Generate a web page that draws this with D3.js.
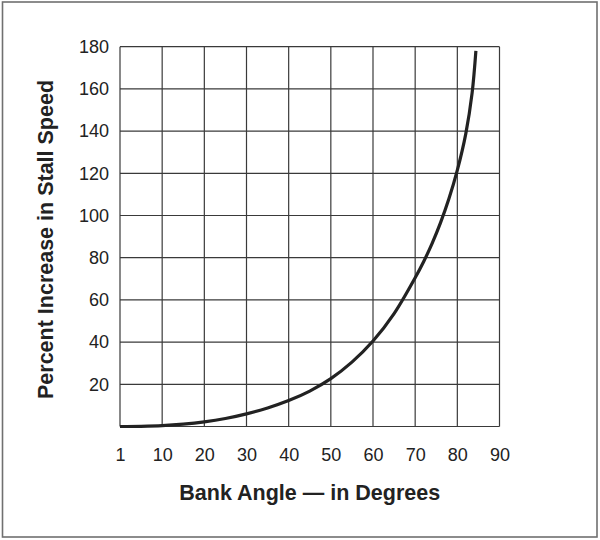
<!DOCTYPE html>
<html lang="en">
<head>
    <meta charset="UTF-8">
    <title>Stall Speed vs Bank Angle</title>
    <script src="https://cdn.jsdelivr.net/npm/d3@7/dist/d3.min.js"></script>
    <style>
        body { margin: 0; background: #fff; }
        text { font-family: 'Liberation Sans', Arial, Helvetica, sans-serif; fill: #222; }
    </style>
</head>
<body>
    <div class="chart"></div>
</body>
<script>
    // values
    const bankAngle = [0, 5, 10, 15, 20, 25, 30, 35, 40, 45, 50, 55, 60, 65, 70, 72, 74, 76, 78, 80, 82, 83.5, 84.4]
    const stallIncrease = [0, 0.1, 0.4, 1.1, 2.2, 3.8, 6, 8.8, 12.3, 16.8, 22.7, 30.5, 40.5, 53.5, 70.5, 78.1, 86.7, 96.5, 107.9, 121.5, 138.7, 158, 178]

    const xTicks = [0, 10, 20, 30, 40, 50, 60, 70, 80, 90]
    const xTickLabels = ['1', '10', '20', '30', '40', '50', '60', '70', '80', '90']
    const yGrid = [0, 20, 40, 60, 80, 100, 120, 140, 160, 180]
    const yTickLabels = [20, 40, 60, 80, 100, 120, 140, 160, 180]

    const width = 600
    const height = 540
    const padding = { top: 46.7, right: 100.5, bottom: 113.5, left: 120 }

    const svg = d3.select('.chart')
        .append('svg')
        .attr('width', width)
        .attr('height', height)

    // outer frame
    svg.append('rect')
        .attr('x', 2.5)
        .attr('y', 2)
        .attr('width', 594.5)
        .attr('height', 535)
        .attr('fill', 'none')
        .attr('stroke', '#707070')
        .attr('stroke-width', 1.6)

    const xScale = d3.scaleLinear().domain([0, 90]).range([padding.left, width - padding.right])
    const yScale = d3.scaleLinear().domain([0, 180]).range([height - padding.bottom, padding.top])

    // grid
    const grid = svg.append('g').attr('stroke', '#3a3a3a').attr('stroke-width', 1.2)
    grid.selectAll('.vline')
        .data(xTicks)
        .enter().append('line')
        .attr('class', 'vline')
        .attr('x1', d => xScale(d)).attr('x2', d => xScale(d))
        .attr('y1', yScale(0)).attr('y2', yScale(180))
    grid.selectAll('.hline')
        .data(yGrid)
        .enter().append('line')
        .attr('class', 'hline')
        .attr('x1', xScale(0)).attr('x2', xScale(90))
        .attr('y1', d => yScale(d)).attr('y2', d => yScale(d))

    // axes (labels only, no domain / tick marks)
    const xAxis = d3.axisBottom(xScale)
        .tickValues(xTicks)
        .tickFormat((d, i) => xTickLabels[i])
        .tickSize(0)
        .tickPadding(22)
    const gx = svg.append('g')
        .attr('transform', `translate(0, ${yScale(0)})`)
        .call(xAxis)
    gx.select('.domain').remove()
    gx.selectAll('text')
        .attr('font-size', '18px')
        .attr('fill', '#222')
        .style('font-family', "'Liberation Sans', Arial, sans-serif")

    const yAxis = d3.axisLeft(yScale)
        .tickValues(yTickLabels)
        .tickSize(0)
        .tickPadding(11)
    const gy = svg.append('g')
        .attr('transform', `translate(${xScale(0)}, 0)`)
        .call(yAxis)
    gy.select('.domain').remove()
    gy.selectAll('text')
        .attr('font-size', '18px')
        .attr('fill', '#222')
        .style('font-family', "'Liberation Sans', Arial, sans-serif")

    // curve
    const line = d3.line()
        .x((d, i) => xScale(bankAngle[i]))
        .y(d => yScale(d))
        .curve(d3.curveCatmullRom.alpha(0.5))
    svg.append('path')
        .datum(stallIncrease)
        .attr('d', line)
        .attr('fill', 'none')
        .attr('stroke', '#222')
        .attr('stroke-width', 3.2)

    // axis titles
    svg.append('text')
        .attr('x', (xScale(0) + xScale(90)) / 2)
        .attr('y', 500)
        .attr('text-anchor', 'middle')
        .attr('font-size', '21.5px')
        .attr('font-weight', 'bold')
        .text('Bank Angle \u2014 in Degrees')

    svg.append('text')
        .attr('transform', 'translate(52.5, 239.5) rotate(-90)')
        .attr('text-anchor', 'middle')
        .attr('font-size', '21.5px')
        .attr('font-weight', 'bold')
        .text('Percent Increase in Stall Speed')
</script>
</html>
